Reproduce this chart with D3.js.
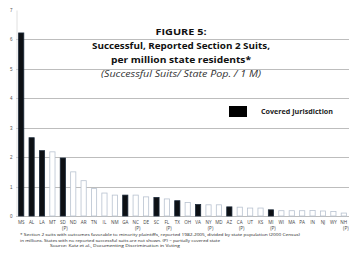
<!DOCTYPE html>
<html lang="en">
<head>
<meta charset="UTF-8">
<title>Figure 5</title>
<script src="https://cdn.jsdelivr.net/npm/d3@7"></script>
<style>
    body{ margin: 0; background: #fff; }
    svg{ display: block; font-family: "Open Sans", "DejaVu Sans", sans-serif; }
</style>
</head>
<body>
<svg id="chart" width="349" height="253"></svg>
<script>
    // states, in chart order
    let states = ["MS","AL","LA","MT","SD","ND","AR","TN","IL","NM","GA","NC","DE","SC","FL","TX",
                  "OH","VA","NY","MD","AZ","CA","UT","KS","MI","WI","MA","PA","IN","NJ","WY","NH"]
    // second label line (partially covered)
    let partial = ["","","","","(P)","","","","","","","(P)","","","(P)","","",
                   "","(P)","","","(P)","","","(P)","","","","","","","(P)"]
    // suits per million residents
    let suits = [6.22,2.66,2.22,2.18,1.97,1.50,1.20,0.93,0.78,0.71,0.71,0.71,0.65,0.63,0.58,0.52,
                 0.46,0.39,0.38,0.38,0.31,0.30,0.27,0.27,0.21,0.18,0.18,0.18,0.19,0.17,0.15,0.10]
    // 1 = covered jurisdiction
    let covered = [1,1,1,0,1,0,0,0,0,0,1,0,0,1,0,1,0,1,0,0,1,0,0,0,1,0,0,0,0,0,0,0]
    let yTicks = [0,1,2,3,4,5,6,7]

    let svg = d3.select("#chart")

    let x = d3.scaleBand()
        .domain(states)
        .range([16, 349])
        .paddingInner(0.5)
        .paddingOuter(0.25)
    let y = d3.scaleLinear().domain([0, 7]).range([216, 10])

    // gridlines
    svg.append("g")
        .selectAll("line")
        .data(yTicks)
        .enter()
        .append("line")
        .attr("x1", 16).attr("x2", 349)
        .attr("y1", d => Math.round(y(d)) + 0.5)
        .attr("y2", d => Math.round(y(d)) + 0.5)
        .attr("stroke", d => d === 7 ? "none" : "#bdbdbd")
        .attr("stroke-width", 1)

    // y axis
    let yAxis = d3.axisLeft(y).tickValues(yTicks).tickFormat(d3.format("d")).tickSize(0).tickPadding(4)
    let ga = svg.append("g").attr("transform", "translate(16.5,0)").call(yAxis)
    ga.select(".domain").attr("stroke", "#e0e0e0")
    ga.selectAll("text").attr("font-size", 4.5).attr("fill", "#555")

    // bars
    svg.append("g")
        .selectAll("rect")
        .data(states)
        .enter()
        .append("rect")
        .attr("x", d => x(d))
        .attr("width", x.bandwidth())
        .attr("y", (d, i) => y(suits[i]))
        .attr("height", (d, i) => y(0) - y(suits[i]))
        .attr("fill", (d, i) => covered[i] ? "#0d1014" : "#ffffff")
        .attr("stroke", (d, i) => covered[i] ? "#1c2a3a" : "#b8c2d0")
        .attr("stroke-width", 0.8)

    // x labels
    let lab = svg.append("g")
    lab.selectAll("text.st")
        .data(states)
        .enter()
        .append("text")
        .attr("class", "st")
        .attr("x", d => x(d) + x.bandwidth() / 2)
        .attr("y", 224)
        .attr("text-anchor", "middle")
        .attr("font-size", 4.6)
        .attr("fill", "#444")
        .text(d => d)
    lab.selectAll("text.p")
        .data(states)
        .enter()
        .append("text")
        .attr("class", "p")
        .attr("x", d => x(d) + x.bandwidth() / 2 + 2)
        .attr("y", 230)
        .attr("text-anchor", "middle")
        .attr("font-size", 4.6)
        .attr("fill", "#444")
        .text((d, i) => partial[i])

    // title
    let title = [
        {t: "FIGURE 5:", y: 35, w: 51, bold: true, it: false},
        {t: "Successful, Reported Section 2 Suits,", y: 49, w: 178, bold: true, it: false},
        {t: "per million state residents*", y: 63, w: 140, bold: true, it: false},
        {t: "(Successful Suits/ State Pop. / 1 M)", y: 77, w: 160, bold: false, it: true}
    ]
    svg.append("g")
        .selectAll("text")
        .data(title)
        .enter()
        .append("text")
        .attr("x", 181)
        .attr("y", d => d.y)
        .attr("text-anchor", "middle")
        .attr("font-size", 9.5)
        .attr("font-weight", d => d.bold ? "bold" : "normal")
        .attr("font-style", d => d.it ? "italic" : "normal")
        .attr("fill", d => d.it ? "#333" : "#111")
        .attr("textLength", d => d.w)
        .attr("lengthAdjust", "spacingAndGlyphs")
        .text(d => d.t)

    // legend
    svg.append("rect")
        .attr("x", 229).attr("y", 106).attr("width", 18).attr("height", 11)
        .attr("fill", "#000")
    svg.append("text")
        .attr("x", 261).attr("y", 114)
        .attr("font-size", 6.5).attr("font-weight", "bold").attr("fill", "#222")
        .attr("textLength", 72).attr("lengthAdjust", "spacingAndGlyphs")
        .text("Covered Jurisdiction")

    // footnote
    let notes = [
        {t: "* Section 2 suits with outcomes favorable to minority plaintiffs, reported 1982-2005, divided by state population (2000 Census)", x: 20, y: 236, w: 280},
        {t: "in millions. States with no reported successful suits are not shown. (P) = partially covered state", x: 20, y: 241.5, w: 200},
        {t: "Source: Katz et al., Documenting Discrimination in Voting", x: 50, y: 247, w: 130}
    ]
    svg.append("g")
        .selectAll("text")
        .data(notes)
        .enter()
        .append("text")
        .attr("x", d => d.x)
        .attr("y", d => d.y)
        .attr("font-size", 4.2)
        .attr("fill", "#222")
        .attr("textLength", d => d.w)
        .attr("lengthAdjust", "spacingAndGlyphs")
        .text(d => d.t)
</script>
</body>
</html>
